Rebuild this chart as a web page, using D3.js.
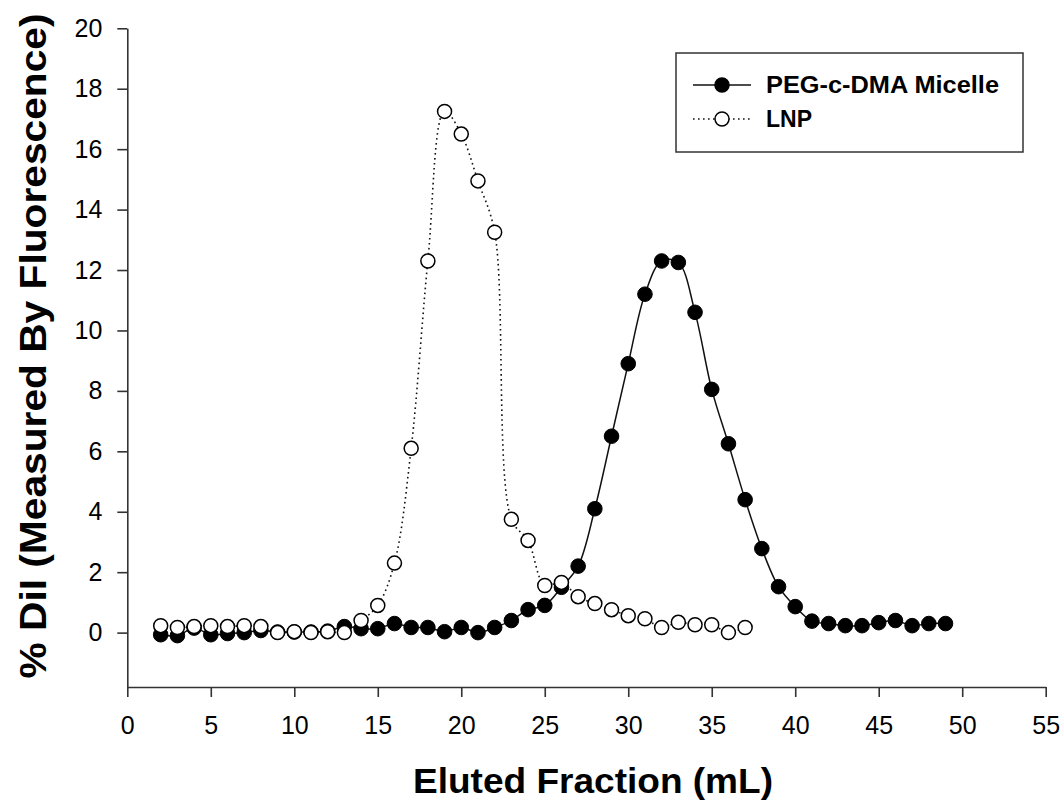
<!DOCTYPE html>
<html>
<head>
<meta charset="utf-8">
<script src="https://cdn.jsdelivr.net/npm/d3@7"></script>
<style>
  body { margin: 0; background: #fff; }
  svg { font-family: Arial, "Liberation Sans", sans-serif; }
  .axis path, .axis line { stroke: #333; stroke-width: 1.6; }
  .axis text { font-family: Arial, "Liberation Sans", sans-serif; font-size: 25px; fill: #000; }
</style>
</head>
<body>
<svg width="1062" height="800"></svg>
<script>
// fractions (mL) and % DiI
let micelleX = [2,3,4,5,6,7,8,9,10,11,12,13,14,15,16,17,18,19,20,21,22,23,24,25,
  26,27,28,29,30,31,32,33,34,35,36,37,38,39,40,41,42,43,44,45,46,47,48,49];
let micelleY = [-0.07,-0.1,0.15,-0.07,-0.03,0.0,0.07,0.02,0.02,0.02,0.05,0.2,0.13,0.13,
  0.3,0.17,0.17,0.03,0.17,0.0,0.17,0.4,0.76,0.9,1.5,2.2,4.1,6.5,8.9,11.2,12.3,12.25,
  10.6,8.05,6.25,4.4,2.78,1.52,0.86,0.38,0.3,0.23,0.23,0.33,0.4,0.23,0.3,0.3];

let lnpX = [2,3,4,5,6,7,8,9,10,11,12,13,14,15,16,17,18,19,20,21,22,23,24,25,
  26,27,28,29,30,31,32,33,34,35,36,37];
let lnpY = [0.23,0.17,0.2,0.23,0.2,0.23,0.2,0.0,0.03,0.0,0.03,0.0,0.4,0.9,2.3,6.1,
  12.3,17.25,16.5,14.95,13.25,3.75,3.05,1.56,1.66,1.19,0.96,0.76,0.56,0.46,0.17,
  0.34,0.26,0.26,0.0,0.17];

let xTicks = [0,5,10,15,20,25,30,35,40,45,50,55];
let yTicks = [0,2,4,6,8,10,12,14,16,18,20];
let seriesNames = ["PEG-c-DMA Micelle", "LNP"];

let svg = d3.select("svg");

let x = d3.scaleLinear().domain([0, 55]).range([127.3, 1045.7]);
let y = d3.scaleLinear().domain([-1.8, 20]).range([687, 28.3]);

let micelle = micelleX.map(function(d, i) { return [d, micelleY[i]]; });
let lnp = lnpX.map(function(d, i) { return [d, lnpY[i]]; });

// axes
svg.append("g")
    .attr("class", "axis")
    .attr("transform", "translate(0,687)")
    .call(d3.axisBottom(x).tickValues(xTicks).tickSize(10).tickSizeOuter(0).tickPadding(19));

svg.append("g")
    .attr("class", "axis")
    .attr("transform", "translate(127.3,0)")
    .call(d3.axisLeft(y).tickValues(yTicks).tickSize(10).tickSizeOuter(0).tickPadding(15));

// axis titles
svg.append("text")
    .attr("x", 593)
    .attr("y", 793)
    .attr("text-anchor", "middle")
    .attr("textLength", 360)
    .attr("lengthAdjust", "spacingAndGlyphs")
    .style("font-size", "35px")
    .style("font-weight", "bold")
    .text("Eluted Fraction (mL)");

svg.append("text")
    .attr("transform", "translate(46,346) rotate(-90)")
    .attr("text-anchor", "middle")
    .attr("textLength", 665)
    .attr("lengthAdjust", "spacingAndGlyphs")
    .style("font-size", "37px")
    .style("font-weight", "bold")
    .text("% DiI (Measured By Fluorescence)");

let line = d3.line()
    .x(function(d) { return x(d[0]); })
    .y(function(d) { return y(d[1]); })
    .curve(d3.curveCatmullRom.alpha(0.5));

// micelle: solid line, filled dots
svg.append("path")
    .datum(micelle)
    .attr("fill", "none")
    .attr("stroke", "#111")
    .attr("stroke-width", 1.5)
    .attr("d", line);

svg.selectAll(".micelle-dot")
    .data(micelle)
    .enter().append("circle")
    .attr("class", "micelle-dot")
    .attr("cx", function(d) { return x(d[0]); })
    .attr("cy", function(d) { return y(d[1]); })
    .attr("r", 7.3)
    .attr("fill", "#000")
    .attr("stroke", "#000")
    .attr("stroke-width", 1);

// LNP: dotted line, open dots
svg.append("path")
    .datum(lnp)
    .attr("fill", "none")
    .attr("stroke", "#111")
    .attr("stroke-width", 1.6)
    .attr("stroke-dasharray", "1.6,3.4")
    .attr("d", line);

svg.selectAll(".lnp-dot")
    .data(lnp)
    .enter().append("circle")
    .attr("class", "lnp-dot")
    .attr("cx", function(d) { return x(d[0]); })
    .attr("cy", function(d) { return y(d[1]); })
    .attr("r", 7)
    .attr("fill", "#fff")
    .attr("stroke", "#000")
    .attr("stroke-width", 1.5);

// legend
let legend = svg.append("g");

legend.append("rect")
    .attr("x", 676)
    .attr("y", 53)
    .attr("width", 347)
    .attr("height", 99)
    .attr("fill", "#fff")
    .attr("stroke", "#333")
    .attr("stroke-width", 1.5);

let entry = legend.selectAll(".entry")
    .data(seriesNames)
    .enter().append("g")
    .attr("class", "entry")
    .attr("transform", function(d, i) { return "translate(0," + (85 + i * 34) + ")"; });

entry.append("line")
    .attr("x1", 693)
    .attr("x2", 751)
    .attr("stroke", "#111")
    .attr("stroke-width", 1.5)
    .attr("stroke-dasharray", function(d, i) { return i ? "1.6,3.4" : null; });

entry.append("circle")
    .attr("cx", 722)
    .attr("r", 7)
    .attr("fill", function(d, i) { return i ? "#fff" : "#000"; })
    .attr("stroke", "#000")
    .attr("stroke-width", 1.5);

entry.append("text")
    .attr("x", 766)
    .attr("y", 8)
    .style("font-size", "23px")
    .style("font-weight", "bold")
    .attr("textLength", function(d, i) { return i ? null : 233; })
    .attr("lengthAdjust", "spacingAndGlyphs")
    .text(function(d) { return d; });
</script>
</body>
</html>
